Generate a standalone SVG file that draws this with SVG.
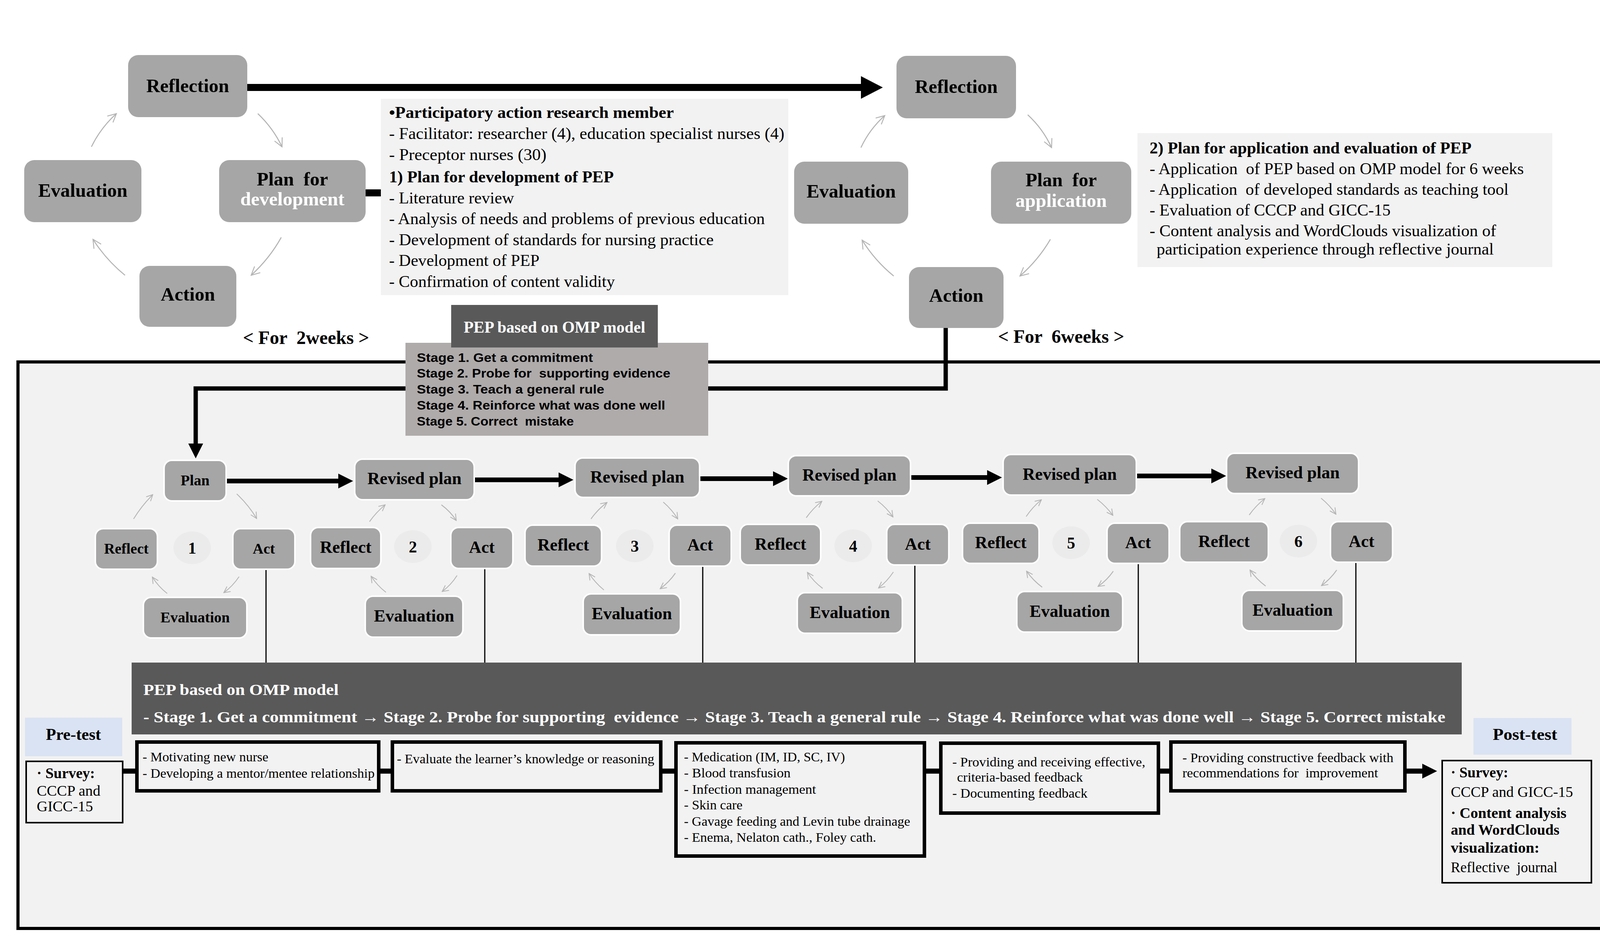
<svg xmlns="http://www.w3.org/2000/svg" width="4128" height="2405" viewBox="0 0 4128 2405">
<style>
.nd{fill:#a6a6a6}
.nw{fill:#a6a6a6;stroke:#ffffff;stroke-width:4}
.sb{font-family:"Liberation Serif","Times New Roman",serif;font-weight:bold;fill:#000;white-space:pre}
.sr{font-family:"Liberation Serif","Times New Roman",serif;fill:#000;white-space:pre}
.ss{font-family:"Liberation Sans",Arial,sans-serif;font-weight:bold;fill:#000;white-space:pre}
.wt{fill:#ffffff}
.thk{stroke:#000;fill:none;stroke-linecap:butt}
.gy{stroke:#b4b4b4;stroke-width:2.6;fill:none}
.gys{stroke:#b4b4b4;stroke-width:2.2;fill:none}
.thin{stroke:#000;stroke-width:3;fill:none}
.bx{fill:#f2f2f2;stroke:#000;stroke-width:9}
.bx4{fill:#f2f2f2;stroke:#000;stroke-width:4}
.cir{fill:#ebebeb}
.blu{fill:#dae3f3}
</style>
<defs>
<marker id="gaL" viewBox="0 0 12 12" refX="11" refY="6" markerWidth="26" markerHeight="26" markerUnits="userSpaceOnUse" orient="auto"><path d="M1,1 L11,6 L1,11" fill="none" stroke="#b4b4b4" stroke-width="1.1"/></marker>
<marker id="gaS" viewBox="0 0 12 12" refX="11" refY="6" markerWidth="19" markerHeight="19" markerUnits="userSpaceOnUse" orient="auto"><path d="M1,1 L11,6 L1,11" fill="none" stroke="#b4b4b4" stroke-width="1.3"/></marker>
<marker id="bh" viewBox="0 0 38 38" refX="0" refY="19" markerWidth="38" markerHeight="38" markerUnits="userSpaceOnUse" orient="auto"><path d="M0,0 L38,19 L0,38 z" fill="#000"/></marker>
<marker id="bhL" viewBox="0 0 56 58" refX="0" refY="29" markerWidth="56" markerHeight="58" markerUnits="userSpaceOnUse" orient="auto"><path d="M0,0 L56,29 L0,58 z" fill="#000"/></marker>
</defs>
<rect width="4128" height="2405" fill="#ffffff"/>

<g id="frame"><rect x="46" y="927" width="4067" height="1451" fill="#f2f2f2" stroke="#000" stroke-width="8"/></g>

<g id="connectors">
<line class="thk" x1="633" y1="224" x2="2204" y2="224" stroke-width="18" marker-end="url(#bhL)"/>
<line class="thk" x1="936" y1="494" x2="976" y2="494" stroke-width="18"/>
<path class="thk" d="M2421,840 V995 H501 V1136" stroke-width="11" marker-end="url(#bh)"/>
<line class="thk" x1="579" y1="1232" x2="866" y2="1232" stroke-width="12" marker-end="url(#bh)"/>
<line class="thk" x1="1214" y1="1229" x2="1430" y2="1229" stroke-width="12" marker-end="url(#bh)"/>
<line class="thk" x1="1791" y1="1226" x2="1979" y2="1226" stroke-width="12" marker-end="url(#bh)"/>
<line class="thk" x1="2331" y1="1223" x2="2527" y2="1223" stroke-width="12" marker-end="url(#bh)"/>
<line class="thk" x1="2909" y1="1219" x2="3101" y2="1219" stroke-width="12" marker-end="url(#bh)"/>
<path class="gy" d="M660,291 Q699,328 722,376" marker-end="url(#gaL)"/>
<path class="gy" d="M720,608 Q690,662 643,705" marker-end="url(#gaL)"/>
<path class="gy" d="M320,705 Q272,666 238,613" marker-end="url(#gaL)"/>
<path class="gy" d="M234,376 Q258,327 298,291" marker-end="url(#gaL)"/>
<path class="gy" d="M2631,294 Q2670,330 2692,378" marker-end="url(#gaL)"/>
<path class="gy" d="M2689,613 Q2658,666 2611,707" marker-end="url(#gaL)"/>
<path class="gy" d="M2288,707 Q2240,668 2207,615" marker-end="url(#gaL)"/>
<path class="gy" d="M2204,378 Q2226,331 2265,296" marker-end="url(#gaL)"/>
<path class="gys" d="M606,1265 Q636,1293 657,1328" marker-end="url(#gaS)"/>
<path class="gys" d="M612,1477 Q596,1501 573,1518" marker-end="url(#gaS)"/>
<path class="gys" d="M428,1520 Q406,1503 390,1478" marker-end="url(#gaS)"/>
<path class="gys" d="M342,1329 Q363,1295 391,1267" marker-end="url(#gaS)"/>
<path class="gys" d="M1130,1293 Q1153,1310 1168,1333" marker-end="url(#gaS)"/>
<path class="gys" d="M1170,1474 Q1155,1498 1132,1515" marker-end="url(#gaS)"/>
<path class="gys" d="M988,1517 Q966,1500 950,1476" marker-end="url(#gaS)"/>
<path class="gys" d="M946,1336 Q963,1312 986,1293" marker-end="url(#gaS)"/>
<path class="gys" d="M1698,1286 Q1720,1305 1735,1329" marker-end="url(#gaS)"/>
<path class="gys" d="M1729,1468 Q1713,1491 1690,1508" marker-end="url(#gaS)"/>
<path class="gys" d="M1546,1511 Q1524,1493 1508,1469" marker-end="url(#gaS)"/>
<path class="gys" d="M1513,1329 Q1530,1305 1554,1287" marker-end="url(#gaS)"/>
<path class="gys" d="M2247,1283 Q2270,1301 2286,1324" marker-end="url(#gaS)"/>
<path class="gys" d="M2287,1465 Q2271,1489 2249,1506" marker-end="url(#gaS)"/>
<path class="gys" d="M2106,1507 Q2083,1490 2067,1466" marker-end="url(#gaS)"/>
<path class="gys" d="M2064,1326 Q2081,1302 2104,1284" marker-end="url(#gaS)"/>
<path class="gys" d="M2809,1279 Q2832,1297 2849,1320" marker-end="url(#gaS)"/>
<path class="gys" d="M2850,1463 Q2834,1486 2811,1502" marker-end="url(#gaS)"/>
<path class="gys" d="M2668,1504 Q2645,1487 2628,1463" marker-end="url(#gaS)"/>
<path class="gys" d="M2627,1323 Q2643,1299 2666,1280" marker-end="url(#gaS)"/>
<path class="gys" d="M3382,1276 Q3404,1294 3420,1317" marker-end="url(#gaS)"/>
<path class="gys" d="M3422,1460 Q3406,1483 3383,1500" marker-end="url(#gaS)"/>
<path class="gys" d="M3240,1501 Q3217,1484 3200,1460" marker-end="url(#gaS)"/>
<path class="gys" d="M3198,1319 Q3215,1295 3238,1277" marker-end="url(#gaS)"/>
<line class="thin" x1="681" y1="1458" x2="681" y2="1697"/>
<line class="thin" x1="1241" y1="1456" x2="1241" y2="1697"/>
<line class="thin" x1="1799" y1="1450" x2="1799" y2="1697"/>
<line class="thin" x1="2342" y1="1447" x2="2342" y2="1697"/>
<line class="thin" x1="2914" y1="1443" x2="2914" y2="1697"/>
<line class="thin" x1="3471" y1="1440" x2="3471" y2="1697"/>
<line class="thk" x1="316" y1="1975" x2="350" y2="1975" stroke-width="13"/>
<line class="thk" x1="970" y1="1975" x2="1004" y2="1975" stroke-width="13"/>
<line class="thk" x1="1692" y1="1975" x2="1730" y2="1975" stroke-width="13"/>
<line class="thk" x1="2367" y1="1975" x2="2408" y2="1975" stroke-width="13"/>
<line class="thk" x1="2966" y1="1975" x2="2997" y2="1975" stroke-width="13"/>
<line class="thk" x1="3597" y1="1975" x2="3641" y2="1975" stroke-width="13" marker-end="url(#bh)"/>
</g>

<g id="top-left-cycle">
<g id="tl-reflection"><rect class="nd" x="328" y="141" width="305" height="159" rx="26"/><text class="sb" x="480.5" y="236" font-size="49" text-anchor="middle">Reflection</text></g>
<g id="tl-evaluation"><rect class="nd" x="62" y="410" width="300" height="159" rx="26"/><text class="sb" x="212" y="504" font-size="49" text-anchor="middle">Evaluation</text></g>
<g id="tl-plan"><rect class="nd" x="561" y="410" width="375" height="159" rx="26"/><text class="sb" x="748.5" y="475" font-size="49" text-anchor="middle">Plan  for</text><text class="sb wt" x="748.5" y="526" font-size="49" text-anchor="middle">development</text></g>
<g id="tl-action"><rect class="nd" x="357" y="681" width="248" height="156" rx="26"/><text class="sb" x="481" y="770" font-size="49" text-anchor="middle">Action</text></g>
<text class="sb" x="783.5" y="881" font-size="48" text-anchor="middle">&lt; For  2weeks &gt;</text>
</g>

<g id="middle-text-box">
<rect x="975" y="253" width="1043" height="503" fill="#f2f2f2"/>
<text class="sb" x="996" y="302" font-size="43" textLength="729" lengthAdjust="spacingAndGlyphs">•Participatory action research member</text>
<text class="sr" x="996" y="356" font-size="43" textLength="1012" lengthAdjust="spacingAndGlyphs">- Facilitator: researcher (4), education specialist nurses (4)</text>
<text class="sr" x="996" y="410" font-size="43" textLength="403" lengthAdjust="spacingAndGlyphs">- Preceptor nurses (30)</text>
<text class="sb" x="996" y="467" font-size="43" textLength="575" lengthAdjust="spacingAndGlyphs">1) Plan for development of PEP</text>
<text class="sr" x="996" y="521" font-size="43" textLength="320" lengthAdjust="spacingAndGlyphs">- Literature review</text>
<text class="sr" x="996" y="574" font-size="43" textLength="962" lengthAdjust="spacingAndGlyphs">- Analysis of needs and problems of previous education</text>
<text class="sr" x="996" y="628" font-size="43" textLength="831" lengthAdjust="spacingAndGlyphs">- Development of standards for nursing practice</text>
<text class="sr" x="996" y="681" font-size="43" textLength="385" lengthAdjust="spacingAndGlyphs">- Development of PEP</text>
<text class="sr" x="996" y="735" font-size="43" textLength="578" lengthAdjust="spacingAndGlyphs">- Confirmation of content validity</text>
</g>

<g id="top-right-cycle">
<g id="tr-reflection"><rect class="nd" x="2295" y="143" width="306" height="160" rx="26"/><text class="sb" x="2448" y="238" font-size="49" text-anchor="middle">Reflection</text></g>
<g id="tr-evaluation"><rect class="nd" x="2033" y="414" width="292" height="159" rx="26"/><text class="sb" x="2179" y="506" font-size="49" text-anchor="middle">Evaluation</text></g>
<g id="tr-plan"><rect class="nd" x="2537" y="414" width="359" height="159" rx="26"/><text class="sb" x="2716.5" y="477" font-size="49" text-anchor="middle">Plan  for</text><text class="sb wt" x="2716.5" y="530" font-size="49" text-anchor="middle">application</text></g>
<g id="tr-action"><rect class="nd" x="2327" y="684" width="242" height="156" rx="26"/><text class="sb" x="2448" y="773" font-size="49" text-anchor="middle">Action</text></g>
<text class="sb" x="2716.5" y="878" font-size="48" text-anchor="middle">&lt; For  6weeks &gt;</text>
</g>

<g id="right-text-box">
<rect x="2912" y="341" width="1062" height="343" fill="#f2f2f2"/>
<text class="sb" x="2943" y="393" font-size="43" textLength="824" lengthAdjust="spacingAndGlyphs">2) Plan for application and evaluation of PEP</text>
<text class="sr" x="2943" y="446" font-size="43" textLength="958" lengthAdjust="spacingAndGlyphs">- Application  of PEP based on OMP model for 6 weeks</text>
<text class="sr" x="2943" y="499" font-size="43" textLength="919" lengthAdjust="spacingAndGlyphs">- Application  of developed standards as teaching tool</text>
<text class="sr" x="2943" y="552" font-size="43" textLength="617" lengthAdjust="spacingAndGlyphs">- Evaluation of CCCP and GICC-15</text>
<text class="sr" x="2943" y="605" font-size="43" textLength="887" lengthAdjust="spacingAndGlyphs">- Content analysis and WordClouds visualization of</text>
<text class="sr" x="2961" y="652" font-size="43" textLength="863" lengthAdjust="spacingAndGlyphs">participation experience through reflective journal</text>
</g>

<g id="stage-box">
<rect x="1038" y="878" width="775" height="238" fill="#afabab"/>
<text class="ss" x="1067" y="927" font-size="32" textLength="451" lengthAdjust="spacingAndGlyphs">Stage 1. Get a commitment</text>
<text class="ss" x="1067" y="967" font-size="32" textLength="649" lengthAdjust="spacingAndGlyphs">Stage 2. Probe for  supporting evidence</text>
<text class="ss" x="1067" y="1008" font-size="32" textLength="480" lengthAdjust="spacingAndGlyphs">Stage 3. Teach a general rule</text>
<text class="ss" x="1067" y="1049" font-size="32" textLength="636" lengthAdjust="spacingAndGlyphs">Stage 4. Reinforce what was done well</text>
<text class="ss" x="1067" y="1090" font-size="32" textLength="402" lengthAdjust="spacingAndGlyphs">Stage 5. Correct  mistake</text>
</g>
<g id="pep-title-box">
<rect x="1155" y="781" width="529" height="109" fill="#595959"/>
<text class="sb wt" x="1419.5" y="852" font-size="42" text-anchor="middle" textLength="465" lengthAdjust="spacingAndGlyphs">PEP based on OMP model</text>
</g>

<g id="cycle-1">
<g id="c1-plan"><rect class="nw" x="420" y="1179" width="159" height="104" rx="20"/><text class="sb" x="499.5" y="1243" font-size="38" text-anchor="middle">Plan</text></g>
<g id="c1-reflect"><rect class="nw" x="244" y="1354" width="159" height="104" rx="20"/><text class="sb" x="323.5" y="1418" font-size="38" text-anchor="middle">Reflect</text></g>
<g id="c1-num"><ellipse class="cir" cx="492" cy="1403" rx="48" ry="42"/><text class="sb" x="492" y="1418" font-size="42" text-anchor="middle">1</text></g>
<g id="c1-act"><rect class="nw" x="596" y="1354" width="159" height="104" rx="20"/><text class="sb" x="675.5" y="1418" font-size="38" text-anchor="middle">Act</text></g>
<g id="c1-eval"><rect class="nw" x="367" y="1530" width="265" height="104" rx="20"/><text class="sb" x="499.5" y="1594" font-size="38" text-anchor="middle">Evaluation</text></g>
</g>
<g id="cycle-2">
<g id="c2-plan"><rect class="nw" x="908" y="1176" width="306" height="104" rx="20"/><text class="sb" x="1061" y="1240" font-size="44" text-anchor="middle">Revised plan</text></g>
<g id="c2-reflect"><rect class="nw" x="795" y="1351" width="180" height="105" rx="20"/><text class="sb" x="885" y="1416" font-size="44" text-anchor="middle">Reflect</text></g>
<g id="c2-num"><ellipse class="cir" cx="1057" cy="1400" rx="48" ry="42"/><text class="sb" x="1057" y="1415" font-size="42" text-anchor="middle">2</text></g>
<g id="c2-act"><rect class="nw" x="1154" y="1351" width="159" height="105" rx="20"/><text class="sb" x="1233.5" y="1416" font-size="44" text-anchor="middle">Act</text></g>
<g id="c2-eval"><rect class="nw" x="935" y="1527" width="250" height="105" rx="20"/><text class="sb" x="1060" y="1592" font-size="44" text-anchor="middle">Evaluation</text></g>
</g>
<g id="cycle-3">
<g id="c3-plan"><rect class="nw" x="1472" y="1173" width="319" height="101" rx="20"/><text class="sb" x="1631.5" y="1236" font-size="44" text-anchor="middle">Revised plan</text></g>
<g id="c3-reflect"><rect class="nw" x="1344" y="1345" width="196" height="105" rx="20"/><text class="sb" x="1442" y="1410" font-size="44" text-anchor="middle">Reflect</text></g>
<g id="c3-num"><ellipse class="cir" cx="1625" cy="1398" rx="48" ry="42"/><text class="sb" x="1625" y="1413" font-size="42" text-anchor="middle">3</text></g>
<g id="c3-act"><rect class="nw" x="1713" y="1345" width="159" height="105" rx="20"/><text class="sb" x="1792.5" y="1410" font-size="44" text-anchor="middle">Act</text></g>
<g id="c3-eval"><rect class="nw" x="1493" y="1521" width="249" height="105" rx="20"/><text class="sb" x="1617.5" y="1586" font-size="44" text-anchor="middle">Evaluation</text></g>
</g>
<g id="cycle-4">
<g id="c4-plan"><rect class="nw" x="2018" y="1167" width="313" height="103" rx="20"/><text class="sb" x="2174.5" y="1231" font-size="44" text-anchor="middle">Revised plan</text></g>
<g id="c4-reflect"><rect class="nw" x="1895" y="1343" width="206" height="104" rx="20"/><text class="sb" x="1998" y="1408" font-size="44" text-anchor="middle">Reflect</text></g>
<g id="c4-num"><ellipse class="cir" cx="2184" cy="1398" rx="48" ry="42"/><text class="sb" x="2184" y="1413" font-size="42" text-anchor="middle">4</text></g>
<g id="c4-act"><rect class="nw" x="2270" y="1343" width="159" height="104" rx="20"/><text class="sb" x="2349.5" y="1408" font-size="44" text-anchor="middle">Act</text></g>
<g id="c4-eval"><rect class="nw" x="2041" y="1518" width="269" height="104" rx="20"/><text class="sb" x="2175.5" y="1583" font-size="44" text-anchor="middle">Evaluation</text></g>
</g>
<g id="cycle-5">
<g id="c5-plan"><rect class="nw" x="2568" y="1164" width="341" height="104" rx="20"/><text class="sb" x="2738.5" y="1229" font-size="44" text-anchor="middle">Revised plan</text></g>
<g id="c5-reflect"><rect class="nw" x="2464" y="1340" width="196" height="103" rx="20"/><text class="sb" x="2562" y="1404" font-size="44" text-anchor="middle">Reflect</text></g>
<g id="c5-num"><ellipse class="cir" cx="2742" cy="1390" rx="48" ry="42"/><text class="sb" x="2742" y="1405" font-size="42" text-anchor="middle">5</text></g>
<g id="c5-act"><rect class="nw" x="2834" y="1340" width="159" height="103" rx="20"/><text class="sb" x="2913.5" y="1404" font-size="44" text-anchor="middle">Act</text></g>
<g id="c5-eval"><rect class="nw" x="2603" y="1515" width="271" height="104" rx="20"/><text class="sb" x="2738.5" y="1580" font-size="44" text-anchor="middle">Evaluation</text></g>
</g>
<g id="cycle-6">
<g id="c6-plan"><rect class="nw" x="3140" y="1161" width="338" height="103" rx="20"/><text class="sb" x="3309" y="1225" font-size="44" text-anchor="middle">Revised plan</text></g>
<g id="c6-reflect"><rect class="nw" x="3020" y="1336" width="227" height="104" rx="20"/><text class="sb" x="3133.5" y="1401" font-size="44" text-anchor="middle">Reflect</text></g>
<g id="c6-num"><ellipse class="cir" cx="3324" cy="1386" rx="48" ry="42"/><text class="sb" x="3324" y="1401" font-size="42" text-anchor="middle">6</text></g>
<g id="c6-act"><rect class="nw" x="3406" y="1336" width="159" height="104" rx="20"/><text class="sb" x="3485.5" y="1401" font-size="44" text-anchor="middle">Act</text></g>
<g id="c6-eval"><rect class="nw" x="3179" y="1512" width="260" height="104" rx="20"/><text class="sb" x="3309" y="1577" font-size="44" text-anchor="middle">Evaluation</text></g>
</g>

<g id="pep-bar">
<rect x="337" y="1697" width="3405" height="184" fill="#595959"/>
<text class="sb wt" x="367" y="1780" font-size="40" textLength="500" lengthAdjust="spacingAndGlyphs">PEP based on OMP model</text>
<text class="sb wt" x="367" y="1850" font-size="40" textLength="3333" lengthAdjust="spacingAndGlyphs">- Stage 1. Get a commitment → Stage 2. Probe for supporting  evidence → Stage 3. Teach a general rule → Stage 4. Reinforce what was done well → Stage 5. Correct mistake</text>
</g>

<g id="pre-test"><rect class="blu" x="64" y="1838" width="249" height="99"/><text class="sb" x="188" y="1895" font-size="42" text-anchor="middle" textLength="141" lengthAdjust="spacingAndGlyphs">Pre-test</text></g>
<g id="pre-survey">
<rect class="bx4" x="67" y="1950" width="247" height="157"/>
<text class="sb" x="94" y="1993" font-size="38" textLength="149" lengthAdjust="spacingAndGlyphs">· Survey:</text>
<text class="sr" x="94" y="2038" font-size="38" textLength="163" lengthAdjust="spacingAndGlyphs">CCCP and</text>
<text class="sr" x="94" y="2078" font-size="38" textLength="144" lengthAdjust="spacingAndGlyphs">GICC-15</text>
</g>
<g id="box-stage1">
<rect class="bx" x="350.5" y="1900.5" width="619" height="125"/>
<text class="sr" x="365" y="1950" font-size="34" textLength="322" lengthAdjust="spacingAndGlyphs">- Motivating new nurse</text>
<text class="sr" x="365" y="1992" font-size="34" textLength="594" lengthAdjust="spacingAndGlyphs">- Developing a mentor/mentee relationship</text>
</g>
<g id="box-stage2">
<rect class="bx" x="1004.5" y="1900.5" width="687" height="125"/>
<text class="sr" x="1016" y="1955" font-size="34" textLength="659" lengthAdjust="spacingAndGlyphs">- Evaluate the learner’s knowledge or reasoning</text>
</g>
<g id="box-stage3">
<rect class="bx" x="1730.5" y="1902.5" width="636" height="290"/>
<text class="sr" x="1751" y="1950" font-size="34" textLength="412" lengthAdjust="spacingAndGlyphs">- Medication (IM, ID, SC, IV)</text>
<text class="sr" x="1751" y="1991" font-size="34" textLength="273" lengthAdjust="spacingAndGlyphs">- Blood transfusion</text>
<text class="sr" x="1751" y="2033" font-size="34" textLength="338" lengthAdjust="spacingAndGlyphs">- Infection management</text>
<text class="sr" x="1751" y="2073" font-size="34" textLength="150" lengthAdjust="spacingAndGlyphs">- Skin care</text>
<text class="sr" x="1751" y="2115" font-size="34" textLength="579" lengthAdjust="spacingAndGlyphs">- Gavage feeding and Levin tube drainage</text>
<text class="sr" x="1751" y="2156" font-size="34" textLength="492" lengthAdjust="spacingAndGlyphs">- Enema, Nelaton cath., Foley cath.</text>
</g>
<g id="box-stage4">
<rect class="bx" x="2408.5" y="1903.5" width="557" height="179"/>
<text class="sr" x="2438" y="1963" font-size="34" textLength="494" lengthAdjust="spacingAndGlyphs">- Providing and receiving effective,</text>
<text class="sr" x="2450" y="2002" font-size="34" textLength="322" lengthAdjust="spacingAndGlyphs">criteria-based feedback</text>
<text class="sr" x="2438" y="2043" font-size="34" textLength="346" lengthAdjust="spacingAndGlyphs">- Documenting feedback</text>
</g>
<g id="box-stage5">
<rect class="bx" x="2997.5" y="1900.5" width="599" height="125"/>
<text class="sr" x="3027" y="1952" font-size="34" textLength="540" lengthAdjust="spacingAndGlyphs">- Providing constructive feedback with</text>
<text class="sr" x="3027" y="1991" font-size="34" textLength="501" lengthAdjust="spacingAndGlyphs">recommendations for  improvement</text>
</g>
<g id="post-test"><rect class="blu" x="3772" y="1839" width="251" height="94"/><text class="sb" x="3904" y="1895" font-size="42" text-anchor="middle" textLength="165" lengthAdjust="spacingAndGlyphs">Post-test</text></g>
<g id="post-survey">
<rect class="bx4" x="3692" y="1948" width="382" height="313"/>
<text class="sb" x="3714" y="1991" font-size="38" textLength="147" lengthAdjust="spacingAndGlyphs">· Survey:</text>
<text class="sr" x="3714" y="2041" font-size="38" textLength="313" lengthAdjust="spacingAndGlyphs">CCCP and GICC-15</text>
<text class="sb" x="3714" y="2095" font-size="38" textLength="296" lengthAdjust="spacingAndGlyphs">· Content analysis</text>
<text class="sb" x="3714" y="2138" font-size="38" textLength="278" lengthAdjust="spacingAndGlyphs">and WordClouds</text>
<text class="sb" x="3714" y="2184" font-size="38" textLength="227" lengthAdjust="spacingAndGlyphs">visualization:</text>
<text class="sr" x="3714" y="2234" font-size="38" textLength="273" lengthAdjust="spacingAndGlyphs">Reflective  journal</text>
</g>
</svg>
